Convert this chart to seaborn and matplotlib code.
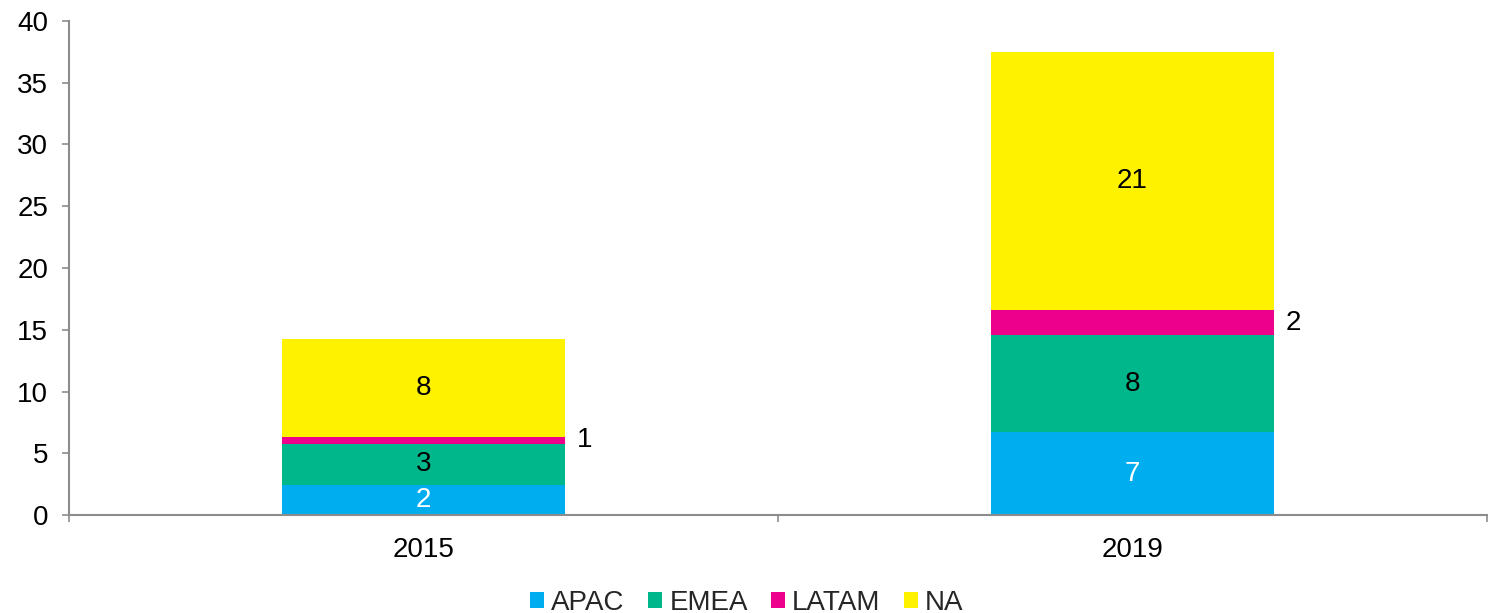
import matplotlib
matplotlib.use("Agg")
import matplotlib.pyplot as plt
import seaborn as sns
import numpy as np
from matplotlib.patches import Patch
from matplotlib.ticker import FixedLocator

years = ["2015", "2019"]
regions = ["APAC", "EMEA", "LATAM", "NA"]
apac = [2.43, 6.72]
emea = [3.32, 7.85]
latam = [0.57, 2.03]
na = [7.93, 20.89]
series = [apac, emea, latam, na]
colors = ["#00AEEF", "#00B78C", "#EC008C", "#FFF200"]
label_colors = ["white", "black", "black", "black"]

sns.set_theme(style="white")
plt.rcParams["font.family"] = ["Liberation Sans", "DejaVu Sans"]
FS = 20

fig = plt.figure(figsize=(14.94, 6.13), dpi=100)
ax = fig.add_axes([69/1494, 98/613, 1418/1494, 494/613])

bottom = np.zeros(len(years))
for i, (name, vals) in enumerate(zip(regions, series)):
    sns.barplot(x=years, y=vals, bottom=bottom, color=colors[i], width=0.4,
                ax=ax, saturation=1, linewidth=0, errorbar=None)
    for j, v in enumerate(vals):
        if name == "LATAM":
            ax.text(j + 0.2 + 0.016, bottom[j] + v / 2, f"{v:.0f}", ha="left",
                    va="center", fontsize=FS, color="black")
        else:
            ax.text(j, bottom[j] + v / 2, f"{v:.0f}", ha="center", va="center",
                    fontsize=FS, color=label_colors[i])
    bottom = bottom + np.array(vals)

ax.set_xlim(-0.5, 1.5)
ax.set_ylim(0, 40)
ax.set_yticks(range(0, 41, 5))
ax.tick_params(axis="y", labelsize=FS, length=5, width=1.2, color="#8C8C8C",
               left=True, labelcolor="black", pad=10)
ax.xaxis.set_major_locator(FixedLocator([-0.5, 0.5, 1.5]))
ax.xaxis.set_minor_locator(FixedLocator([0, 1]))
ax.set_xticklabels([], minor=False)
ax.set_xticklabels(years, minor=True)
ax.tick_params(axis="x", which="major", length=5, width=1.2, color="#8C8C8C",
               bottom=True)
ax.tick_params(axis="x", which="minor", length=0, labelsize=FS, pad=16,
               labelcolor="black")
for s in ["top", "right"]:
    ax.spines[s].set_visible(False)
for s in ["left", "bottom"]:
    ax.spines[s].set_color("#8C8C8C")
    ax.spines[s].set_linewidth(1.5)
ax.set_xlabel("")
ax.set_ylabel("")

handles = [Patch(facecolor=c, edgecolor="none", label=r) for c, r in zip(colors, regions)]
fig.legend(handles=handles, loc="lower center", bbox_to_anchor=(0.5, -0.045), ncol=4,
           frameon=False, fontsize=FS, handlelength=0.5, handleheight=0.5,
           handletextpad=0.25, columnspacing=0.85)

fig.savefig("out.png", dpi=100)
